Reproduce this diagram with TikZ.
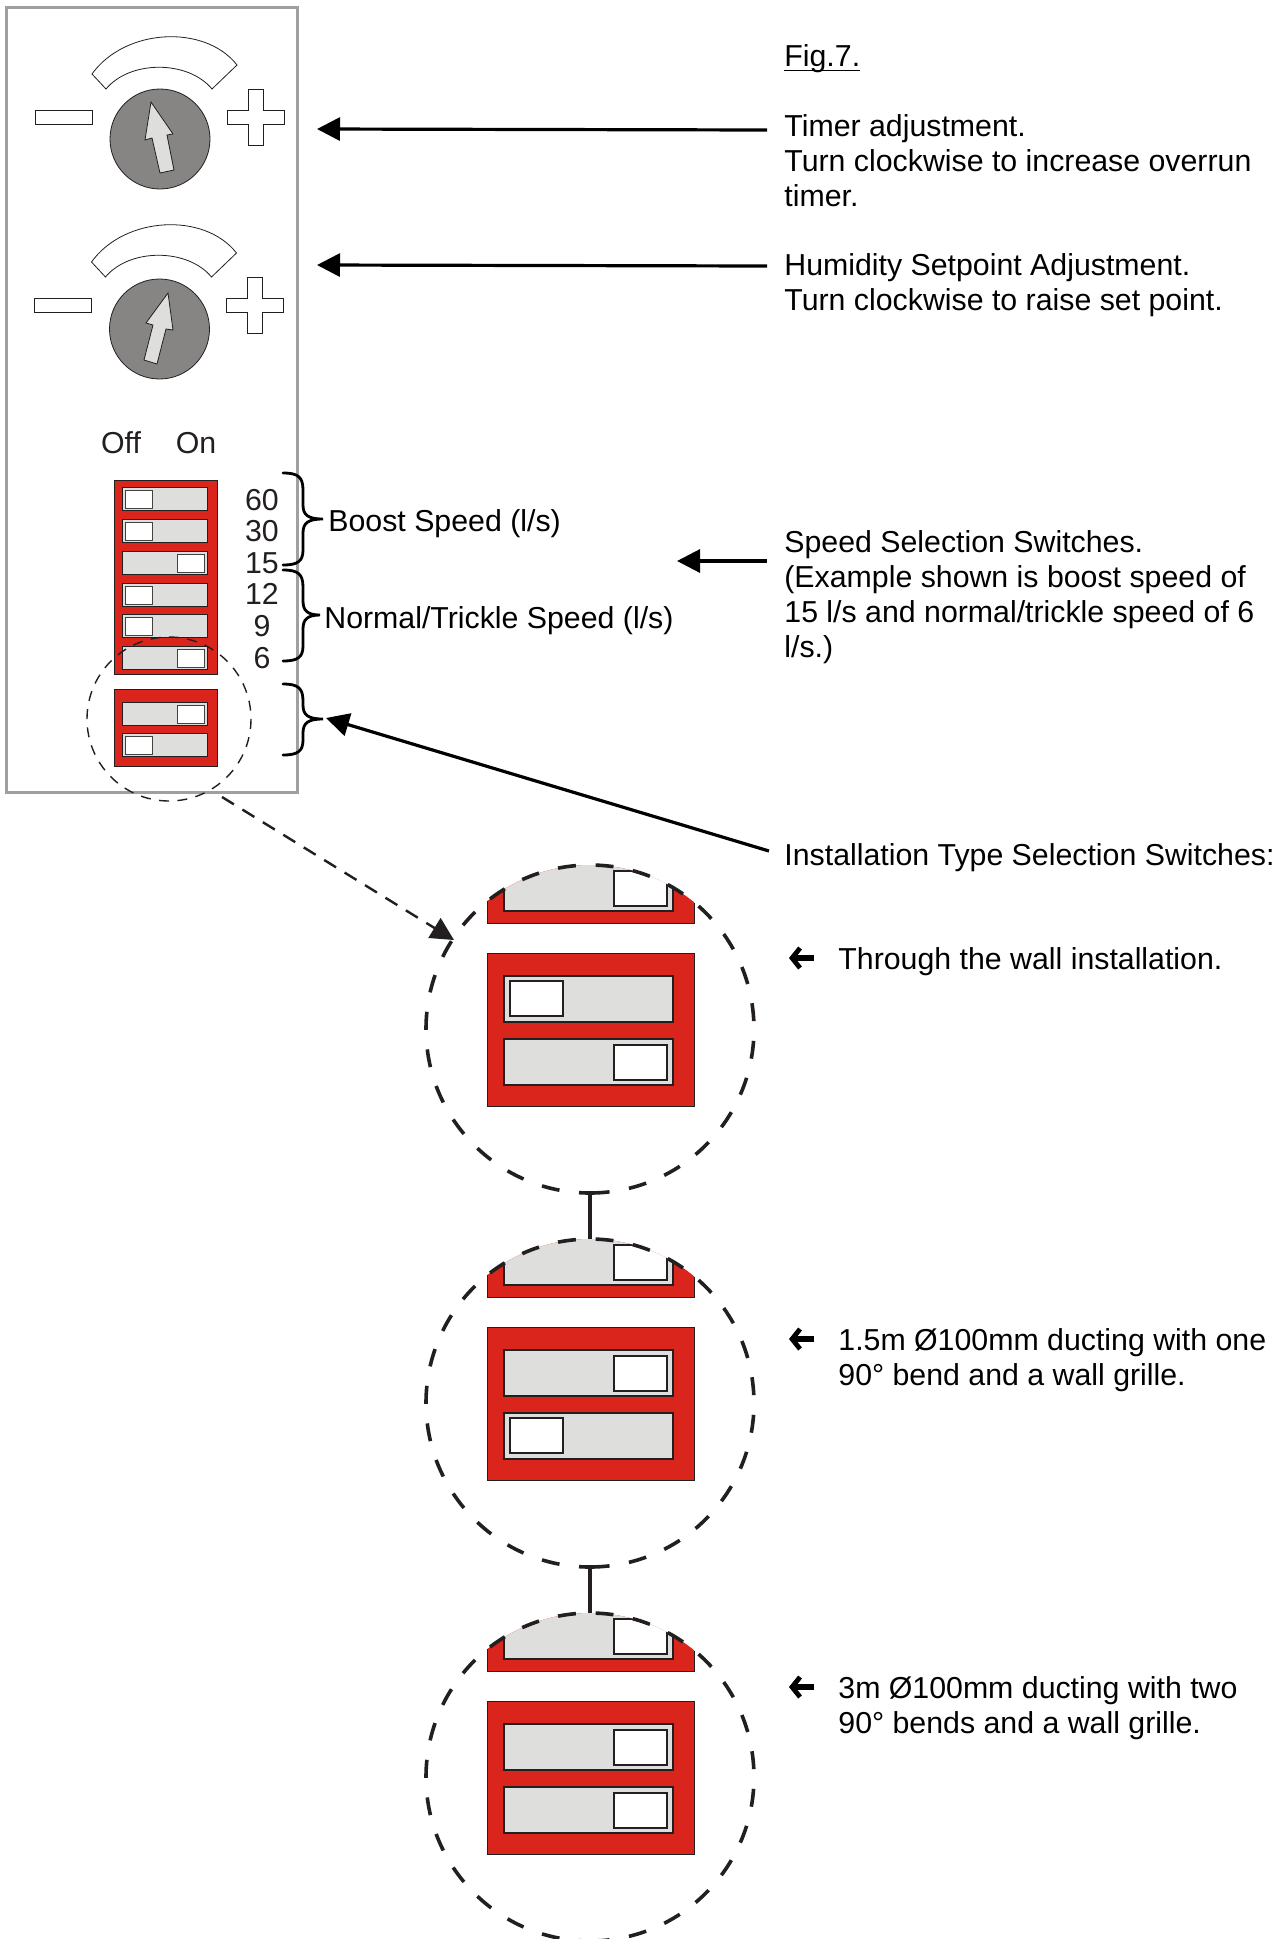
\documentclass[tikz,border=0pt]{standalone}
\usepackage{fontspec}
\setmainfont{Liberation Sans}
\usetikzlibrary{arrows.meta}
\definecolor{ink}{HTML}{231F20}
\definecolor{redsw}{HTML}{DA251C}
\definecolor{slotgr}{HTML}{DEDEDC}
\definecolor{knobgr}{HTML}{868583}
\definecolor{panelgr}{HTML}{A0A0A0}
\tikzset{
  x=0.5pt,y=-0.5pt,
  txt/.style={font=\fontsize{15.15}{17.5}\selectfont,text=black,inner sep=0pt,align=left},
  num/.style={font=\fontsize{15.15}{17.5}\selectfont,text=ink,inner sep=0pt},
  redbox/.style={fill=redsw,draw=ink,line width=0.4pt},
  slot/.style={fill=slotgr,draw=ink,line width=0.6pt},
  slotsm/.style={fill=slotgr,draw=ink,line width=0.45pt},
  knobw/.style={fill=white,draw=ink,line width=0.6pt},
  knobsm/.style={fill=white,draw=ink!85,line width=0.5pt},
  whiteshape/.style={fill=white,draw=ink,line width=0.4pt},
  bigarrow/.style={draw=black,line width=1.6pt,-{Triangle[length=11.5pt,width=11.5pt]}},
  brace/.style={draw=black,line width=1.4pt,line cap=round},
  bigdash/.style={draw=ink,line width=1.8pt,dash pattern=on 9pt off 9.85pt},
  smalldash/.style={draw=ink,line width=0.7pt,dash pattern=on 5pt off 4.2pt},
}
\newcommand{\figul}[1]{\setbox0\hbox{#1}\rlap{\rule[-2.4pt]{\wd0}{0.6pt}}\box0}
\newcommand{\dial}[3]{%
  \begin{scope}[yshift=#1*-0.5pt]
  \path[whiteshape] (92,74) .. controls (125,28) and (205,24) .. (237,65) -- (212,89) .. controls (188,60) and (130,60) .. (106,89) -- cycle;
  \path[whiteshape] (35,110) rectangle (92,124);
  \path[whiteshape] (248,89) -- (263,89) -- (263,110) -- (284,110) -- (284,124) -- (263,124) -- (263,145) -- (248,145) -- (248,124) -- (227,124) -- (227,110) -- (248,110) -- cycle;
  \end{scope}
  \path[fill=knobgr,draw=ink,line width=0.4pt] (160,#2) circle [radius=50];
  \path[fill=slotgr,draw=ink,line width=0.4pt] #3 -- cycle;
}
\newcommand{\swL}[1]{%
  \path[slotsm] (122,#1) rectangle ++(85,23);
  \path[knobsm] (125,#1+3) rectangle ++(27,18);
}
\newcommand{\swR}[1]{%
  \path[slotsm] (122,#1) rectangle ++(85,23);
  \path[knobsm] (177,#1+3) rectangle ++(27,18);
}
\newcommand{\bigsw}[2]{%
  \path[slot] (504,#1) rectangle ++(169,46);
  \ifnum#2=0 \path[knobw] (510,#1+5) rectangle ++(53,35);
  \else \path[knobw] (614,#1+6) rectangle ++(53,35);\fi
}
\newcommand{\detail}[4]{%
  \begin{scope}[yshift=#1*-0.5pt]
    \begin{scope}
      \clip (590,1029) circle [radius=164];
      \path[redbox] (487,850) rectangle (694,923);
      \path[slot] (504,840) rectangle (673,911);
      \path[knobw] (614,871) rectangle (667,906);
    \end{scope}
    \path[redbox] (487,953) rectangle (694,1106);
    \bigsw{976}{#2}
    \bigsw{1039}{#3}
    \path[bigdash] (597,1192.85) arc [start angle=87.55,end angle=447.55,radius=164];
    \coordinate (#4t) at (590,865);
    \coordinate (#4b) at (590,1193);
  \end{scope}
}
\begin{document}
\begin{tikzpicture}
\useasboundingbox (0,0) rectangle (1287,1939);
\path[draw=panelgr,line width=1.5pt] (6,7) rectangle (297,792);
\dial{0}{139}{(151,102) -- (173,134) -- (167,135) -- (174,170) -- (160,173) -- (152,138) -- (145,140)}
\begin{scope}[xshift=-0.25pt]
\dial{188}{329}{(168.5,293) -- (173.5,330) -- (166.5,329) -- (157.5,364) -- (144.5,360) -- (153.5,325) -- (146.5,323)}
\end{scope}
\node[num] (off) at (121,443) {Off};
\node[num] (on) at (196,443) {On};
\path[redbox] (114,480) rectangle (217,674);
\swL{487}\swL{519}\swR{551}\swL{583}\swL{614}\swR{646}
\path[redbox] (114,689) rectangle (217,766);
\swR{702}\swL{733}
\node[num] (n60) at (262,500) {60};
\node[num] (n30) at (262,531) {30};
\node[num] (n15) at (262,563) {15};
\node[num] (n12) at (262,594) {12};
\node[num] (n9) at (262,626) {9};
\node[num] (n6) at (262,658) {6};
\path[brace] (283,473) .. controls (298,473) and (303,477) .. (303,490) -- (303,505) .. controls (303,515) and (308,519) .. (323,519) .. controls (308,519) and (303,523) .. (303,533) -- (303,550) .. controls (303,561) and (298,565) .. (283,565);
\path[brace] (283,570) .. controls (298,570) and (303,574) .. (303,587) -- (303,601) .. controls (303,611) and (308,615) .. (320,615) .. controls (308,615) and (303,619) .. (303,629) -- (303,646) .. controls (303,657) and (298,661) .. (283,661);
\path[brace] (283,684) .. controls (298,684) and (303,688) .. (303,701) -- (303,705) .. controls (303,715) and (308,719) .. (323,719) .. controls (308,719) and (303,723) .. (303,733) -- (303,740) .. controls (303,751) and (298,755) .. (283,755);
\node[txt,anchor=west] (boost) at (328,524) {Boost Speed (l/s)};
\node[txt,anchor=west] (normal) at (324,621) {Normal/Trickle Speed (l/s)};
\path[smalldash] (169,801) arc [start angle=90,end angle=450,radius=82];
\detail{0}{0}{1}{da}
\detail{374}{1}{0}{db}
\detail{748}{1}{1}{dc}
\draw[draw=ink,line width=1.8pt] (dab) -- (dbt);
\draw[draw=ink,line width=1.8pt] (dbb) -- (dct);
\node[txt,anchor=base west] (fig) at (784,66) {\figul{Fig.7.}};
\node[txt,anchor=north west] (timer) at (784,114) {Timer adjustment.\\Turn clockwise to increase overrun\\timer.};
\node[txt,anchor=north west] (hum) at (784,253) {Humidity Setpoint Adjustment.\\Turn clockwise to raise set point.};
\node[txt,anchor=north west] (speed) at (784,530) {Speed Selection Switches.\\(Example shown is boost speed of\\15 l/s and normal/trickle speed of 6\\l/s.)};
\node[txt,anchor=west] (inst) at (784,858) {Installation Type Selection Switches:};
\node[txt,anchor=west] (t1) at (838,962) {Through the wall installation.};
\node[txt,anchor=north west] (t2) at (838,1328) {1.5m Ø100mm ducting with one\\90° bend and a wall grille.};
\node[txt,anchor=north west] (t3) at (838,1676) {3m Ø100mm ducting with two\\90° bends and a wall grille.};
\coordinate (a1s) at (767,130); \coordinate (a1e) at (317,129);
\coordinate (a2s) at (767,266); \coordinate (a2e) at (317,265);
\coordinate (a3s) at (767,561); \coordinate (a3e) at (677,561);
\coordinate (a4s) at (769,851); \coordinate (a4e) at (326,718);
\coordinate (a5s) at (222,797); \coordinate (a5e) at (454,940);
\draw[bigarrow] (a1s) -- (a1e);
\draw[bigarrow] (a2s) -- (a2e);
\draw[bigarrow] (a3s) -- (a3e);
\draw[bigarrow] (a4s) -- (a4e);
\draw[draw=ink,line width=1.2pt,dash pattern=on 7pt off 5pt,-{Triangle[length=11.5pt,width=11.5pt]}] (a5s) -- (a5e);
\foreach \n/\y in {s1/958,s2/1339,s3/1687}{
  \coordinate (\n s) at (814,\y); \coordinate (\n e) at (789,\y);
  \draw[draw=black,line width=2.8pt,-{Straight Barb[length=4pt,width=10pt,line width=2.4pt]}] (\n s) -- (\n e);
}
\end{tikzpicture}
\end{document}
